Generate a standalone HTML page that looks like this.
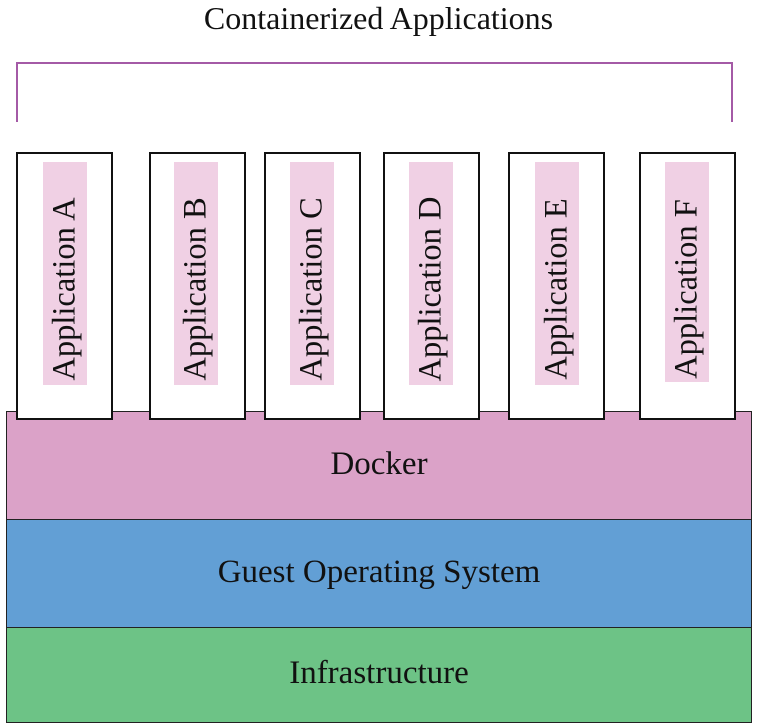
<!DOCTYPE html>
<html><head><style>
body{margin:0;width:757px;height:727px;background:#fff;position:relative;overflow:hidden;font-family:"Liberation Serif",serif;}
.a{position:absolute;}
.box{position:absolute;top:152px;height:268px;border:2px solid #111;background:#fff;box-sizing:border-box;}
.lab{position:absolute;top:8px;width:44px;height:223px;background:#f0d0e4;}
.lab span{position:absolute;left:50%;top:127px;transform:translate(-50%,-50%) rotate(-90deg);white-space:nowrap;font-size:32.5px;color:#111;}
.layer{position:absolute;left:6px;width:746px;border:1.5px solid #222;box-sizing:border-box;text-align:center;font-size:33px;color:#111;}
</style></head><body>
<div class="a" style="left:0;width:757px;top:0px;text-align:center;font-size:32px;color:#111;">Containerized Applications</div>
<div class="a" style="left:16px;top:62px;width:717px;height:60px;border:2.5px solid #a45aa6;border-bottom:none;box-sizing:border-box;"></div>
<div class="layer" style="top:411px;height:109px;background:#dba2c8;line-height:104px;">Docker</div>
<div class="layer" style="top:519px;height:109px;background:#629fd5;line-height:104px;">Guest Operating System</div>
<div class="layer" style="top:627px;height:96px;background:#6dc386;line-height:90px;">Infrastructure</div>
<div class="box" style="left:16px;width:97px;"><div class="lab" style="left:25px"><span>Application A</span></div></div>
<div class="box" style="left:149px;width:97px;"><div class="lab" style="left:23px"><span>Application B</span></div></div>
<div class="box" style="left:264px;width:97px;"><div class="lab" style="left:24px"><span>Application C</span></div></div>
<div class="box" style="left:383px;width:97px;"><div class="lab" style="left:24px"><span>Application D</span></div></div>
<div class="box" style="left:508px;width:97px;"><div class="lab" style="left:25px"><span>Application E</span></div></div>
<div class="box" style="left:639px;width:97px;"><div class="lab" style="left:24px;height:220px"><span>Application F</span></div></div>
</body></html>
